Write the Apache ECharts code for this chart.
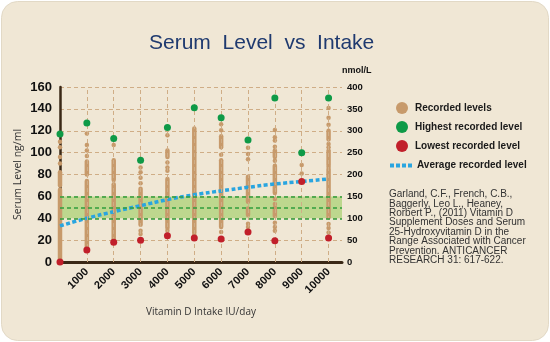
<!DOCTYPE html>
<html>
<head>
<meta charset="utf-8">
<script src="https://cdn.jsdelivr.net/npm/echarts@6/dist/echarts.min.js"></script>
<style>
html,body{margin:0;padding:0;background:#ffffff;}
#chart{width:550px;height:342px;}
</style>
</head>
<body>
<div id="chart"></div>
<script>
// ---- data ----
const doses = [0, 1000, 2000, 3000, 4000, 5000, 6000, 7000, 8000, 9000, 10000];
const highestLevels = [117, 127, 113, 93, 123, 141, 132, 111.5, 150, 100, 150];
const lowestLevels = [0, 11, 18, 20, 24, 22, 21, 27.5, 19.5, 73.5, 22];
const averageLevels = [33, 40, 46, 51.5, 57, 61.5, 65, 68.3, 71.3, 73.6, 76];
// dense runs of recorded levels: [dose, from, to]
const recordedRuns = [
  [0, 0, 66], [0, 70, 82],
  [1000, 13, 74], [1000, 80, 92],
  [2000, 20, 71], [2000, 75, 93],
  [3000, 34, 67],
  [4000, 31, 76], [4000, 96, 102],
  [5000, 27, 122],
  [6000, 32, 93], [6000, 105, 115],
  [7000, 55, 78], [7000, 43, 49],
  [8000, 63, 88], [8000, 96, 102], [8000, 42, 50],
  [10000, 41, 85], [10000, 89, 102], [10000, 112, 120]
];
// isolated recorded levels: [dose, level]
const recordedDots = [
  [0, 90], [0, 96], [0, 105], [0, 110],
  [1000, 97], [1000, 102], [1000, 107], [1000, 117.5],
  [2000, 107],
  [3000, 25.5], [3000, 28.5], [3000, 72], [3000, 77], [3000, 82], [3000, 86.5],
  [4000, 28.5], [4000, 83.5], [4000, 86.5], [4000, 91], [4000, 116],
  [5000, 25],
  [6000, 27.5], [6000, 98], [6000, 120.5], [6000, 126],
  [7000, 32], [7000, 35], [7000, 94], [7000, 98.7], [7000, 104.5],
  [8000, 28.5], [8000, 32], [8000, 36], [8000, 53], [8000, 57.6], [8000, 92.6], [8000, 105.4], [8000, 111], [8000, 114], [8000, 120.7],
  [9000, 81], [9000, 88.7],
  [10000, 27], [10000, 31], [10000, 34.7], [10000, 87], [10000, 105], [10000, 108], [10000, 125.5], [10000, 132], [10000, 140.8]
];
const targetBand = [40, 60];
const targetLines = [40, 50, 60];
const gridDoses = [1000, 2000, 3000, 4000, 5000, 6000, 7000, 8000, 9000, 10000];
const citation = [
  'Garland, C.F., French, C.B.,',
  'Baggerly, Leo L., Heaney,',
  'Rorbert P., (2011) Vitamin D',
  'Supplement Doses and Serum',
  '25-Hydroxyvitamin D in the',
  'Range Associated with Cancer',
  'Prevention. ANTICANCER',
  'RESEARCH 31: 617-622.'
];

const TAN = '#c79a6b';
const GREEN = '#0e9a47';
const RED = '#c11f2a';
const BLUE = '#29a5e0';
const GRIDC = '#cfad86';
const AXISC = '#3a2816';

const chart = echarts.init(document.getElementById('chart'), null, {renderer: 'canvas'});

const option = {
  backgroundColor: '#ffffff',
  animation: false,
  graphic: [
    {type: 'rect', z: -100, silent: true,
     shape: {x: 1.5, y: 1.5, width: 547, height: 339, r: 16},
     style: {fill: '#f0e7d5', stroke: '#e2d9c6', lineWidth: 1}},
    {type: 'text', left: 389, top: 189.5, z: 10, silent: true,
     style: {text: citation.join('\n'), font: '10px "Liberation Sans", Arial, sans-serif',
             fill: '#333333', lineHeight: 9.4}}
  ],
  title: {
    text: 'Serum  Level  vs  Intake',
    left: 144, top: 28,
    textStyle: {fontFamily: '"Liberation Sans", Arial, sans-serif', fontSize: 21, fontWeight: 'normal', color: '#1f3a6f'}
  },
  legend: [
    {
      orient: 'vertical', left: 391, top: 97, itemWidth: 16, itemHeight: 12, itemGap: 7,
      data: [
        {name: 'Recorded levels', icon: 'circle'},
        {name: 'Highest recorded level', icon: 'circle'},
        {name: 'Lowest recorded level', icon: 'circle'}
      ],
      textStyle: {fontFamily: '"Liberation Sans", Arial, sans-serif', fontSize: 10, fontWeight: 'bold', color: '#1a1a1a'},
      selectedMode: false
    },
    {
      orient: 'vertical', left: 385, top: 155.5, itemWidth: 22, itemHeight: 4,
      data: [{name: 'Average recorded level',
              icon: 'path://M0,0h4v4h-4zM6,0h4v4h-4zM12,0h4v4h-4zM18,0h4v4h-4z',
              itemStyle: {color: BLUE}}],
      textStyle: {fontFamily: '"Liberation Sans", Arial, sans-serif', fontSize: 10, fontWeight: 'bold', color: '#1a1a1a'},
      selectedMode: false
    }
  ],
  grid: {left: 60, right: 208, top: 87, bottom: 80, containLabel: false},
  xAxis: {
    type: 'value', min: 0, max: 10500, interval: 1000,
    name: 'Vitamin D Intake IU/day', nameLocation: 'middle', nameGap: 45,
    nameTextStyle: {fontFamily: '"Open Sans", sans-serif', fontSize: 10, color: '#333333'},
    axisLine: {show: true, onZero: false, lineStyle: {color: AXISC, width: 3}},
    axisTick: {show: false},
    splitLine: {show: false},
    axisLabel: {
      rotate: 45, margin: 8, showMinLabel: false, showMaxLabel: false,
      formatter: function (v) { return String(v); },
      fontFamily: '"Liberation Sans", Arial, sans-serif', fontSize: 11, fontWeight: 'bold', color: '#111111'
    }
  },
  yAxis: [
    {
      type: 'value', min: 0, max: 160, interval: 20, position: 'left',
      name: 'Serum Level ng/ml', nameLocation: 'middle', nameGap: 36, nameMoveOverlap: false,
      nameTextStyle: {fontFamily: '"Open Sans", sans-serif', fontSize: 10.5, color: '#333333'},
      axisLine: {show: true, lineStyle: {color: AXISC, width: 2.5}},
      axisTick: {show: false},
      axisLabel: {margin: 8, fontFamily: '"Liberation Sans", Arial, sans-serif', fontSize: 13, fontWeight: 'bold', color: '#111111'},
      splitLine: {show: true, lineStyle: {color: GRIDC, type: [4, 3], width: 1}}
    },
    {
      type: 'value', min: 0, max: 400, interval: 50, position: 'right',
      name: 'nmol/L', nameLocation: 'end', nameGap: 16,
      nameTextStyle: {fontFamily: '"Liberation Sans", Arial, sans-serif', fontSize: 9, fontWeight: 'bold', color: '#111111', align: 'left', verticalAlign: 'middle'},
      axisLine: {show: false},
      axisTick: {show: false},
      axisLabel: {margin: 5, fontFamily: '"Liberation Sans", Arial, sans-serif', fontSize: 9.5, fontWeight: 'bold', color: '#111111'},
      splitLine: {show: false}
    }
  ],
  series: [
    {
      name: 'gridlines', type: 'line', data: [], z: 1, silent: true,
      markLine: {
        silent: true, symbol: 'none', label: {show: false},
        lineStyle: {color: GRIDC, type: [4, 3], width: 1},
        data: gridDoses.map(v => ({xAxis: v}))
      }
    },
    {
      name: 'band', type: 'line', data: [], z: 1, silent: true,
      markArea: {
        silent: true,
        itemStyle: {color: '#bdd78e'},
        data: [[{yAxis: targetBand[0]}, {yAxis: targetBand[1]}]]
      },
      markLine: {
        silent: true, symbol: 'none', label: {show: false},
        lineStyle: {color: '#2f9e3c', type: [4, 3], width: 1.5},
        data: targetLines.map(v => ({yAxis: v}))
      }
    },
    {
      name: 'Recorded levels', type: 'scatter', z: 3,
      symbol: 'circle', symbolSize: 4.5,
      itemStyle: {color: TAN, opacity: 1},
      data: recordedDots
    },
    {
      name: 'recorded runs', type: 'custom', z: 3,
      encode: {x: 0, y: [1, 2]},
      renderItem: function (params, api) {
        const x = api.value(0), lo = api.value(1), hi = api.value(2);
        const p1 = api.coord([x, lo]);
        const p2 = api.coord([x, hi]);
        return {
          type: 'line',
          shape: {x1: p1[0], y1: p1[1], x2: p2[0], y2: p2[1]},
          style: {stroke: TAN, lineWidth: 4.5, lineCap: 'round'}
        };
      },
      data: recordedRuns
    },
    {
      name: 'Average recorded level', type: 'line', z: 4,
      smooth: true, symbol: 'none', showSymbol: false,
      lineStyle: {color: BLUE, width: 3.5, type: [4, 2.5]},
      itemStyle: {color: BLUE},
      data: doses.map((d, i) => [d, averageLevels[i]])
    },
    {
      name: 'Highest recorded level', type: 'scatter', z: 5,
      symbol: 'circle', symbolSize: 7,
      itemStyle: {color: GREEN, opacity: 1},
      data: doses.map((d, i) => [d, highestLevels[i]])
    },
    {
      name: 'Lowest recorded level', type: 'scatter', z: 5,
      symbol: 'circle', symbolSize: 7,
      itemStyle: {color: RED, opacity: 1},
      data: doses.map((d, i) => [d, lowestLevels[i]])
    }
  ]
};
chart.setOption(option);
</script>
</body>
</html>
